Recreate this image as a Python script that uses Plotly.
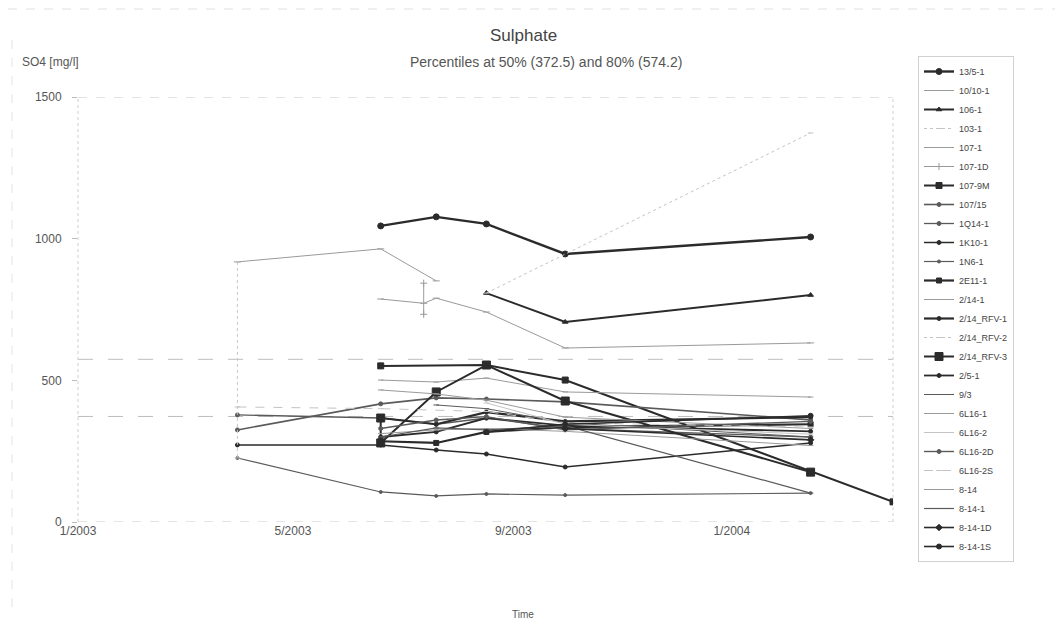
import plotly.graph_objects as go

# Sampling dates (some dates appear twice: two samples on the same day)
sample_dates = ["2003-03-31", "2003-03-31", "2003-06-19", "2003-06-19", "2003-07-13",
                "2003-07-13", "2003-07-20", "2003-08-17", "2003-09-30", "2004-02-14", "2004-03-31"]
N = None

series_names = ["13/5-1", "10/10-1", "106-1", "103-1", "107-1", "107-1D", "107-9M", "107/15",
                "1Q14-1", "1K10-1", "1N6-1", "2E11-1", "2/14-1", "2/14_RFV-1", "2/14_RFV-2",
                "2/14_RFV-3", "2/5-1", "9/3", "6L16-1", "6L16-2", "6L16-2D", "6L16-2S",
                "8-14", "8-14-1", "8-14-1D", "8-14-1S"]

v_13_5_1    = [N, N, 1045, N, N, N, 1077, 1052, 946, 1006, N]
v_10_10_1   = [918, N, 964, N, N, N, 851, N, N, N, N]
v_106_1     = [N, N, N, N, N, N, N, 808, 706, 801, N]
v_103_1     = [N, N, N, N, N, N, N, 808, N, 1373, N]
v_107_1     = [N, N, 787, N, 772, N, 790, 741, 614, 632, N]
v_107_1D    = [N, N, N, N, 843, 733, N, N, N, N, N]
v_107_9M    = [N, N, 551, N, N, N, N, 554, 501, N, 71]
v_107_15    = [325, N, 417, N, N, N, 438, 434, 424, 360, N]
v_1Q14_1    = [378, N, 367, N, N, N, 345, 367, 330, 300, N]
v_1K10_1    = [272, N, 272, N, N, N, 254, 240, 194, 279, N]
v_1N6_1     = [226, N, 106, N, N, N, 92, 99, 95, 102, N]
v_2E11_1    = [N, N, 285, N, N, N, 279, 318, 335, 345, N]
v_2_14_1    = [N, N, 501, N, N, N, 494, 508, 459, 441, N]
v_2_14_RFV1 = [N, N, 367, N, N, N, 345, 388, 355, 370, N]
v_2_14_RFV2 = [918, 226, N, N, N, N, N, N, N, N, N]
v_2_14_RFV3 = [N, N, 367, 279, N, N, 459, 554, 427, 176, N]
v_2_5_1     = [N, N, 300, N, N, N, 318, 367, 340, 320, N]
v_9_3       = [N, N, N, N, N, N, 413, 400, 350, 300, N]
v_6L16_1    = [N, N, 466, N, N, N, 452, 430, 370, 330, N]
v_6L16_2    = [N, N, N, N, N, N, N, 420, 345, 310, N]
v_6L16_2D   = [N, N, 330, N, N, N, 360, 372, 325, 355, N]
v_6L16_2S   = [406, N, 400, N, N, N, N, 390, 350, 335, N]
v_8_14      = [N, N, 312, N, N, N, 325, 330, 320, 270, N]
v_8_14_1    = [N, N, 300, N, N, N, 332, 325, 340, 102, N]
v_8_14_1D   = [N, N, N, N, N, N, N, N, 330, 290, N]
v_8_14_1S   = [N, N, N, N, N, N, N, 318, 345, 375, N]

series_values = [v_13_5_1, v_10_10_1, v_106_1, v_103_1, v_107_1, v_107_1D, v_107_9M, v_107_15,
                 v_1Q14_1, v_1K10_1, v_1N6_1, v_2E11_1, v_2_14_1, v_2_14_RFV1, v_2_14_RFV2,
                 v_2_14_RFV3, v_2_5_1, v_9_3, v_6L16_1, v_6L16_2, v_6L16_2D, v_6L16_2S,
                 v_8_14, v_8_14_1, v_8_14_1D, v_8_14_1S]

percentile_50 = 372.5
percentile_80 = 574.2
y_ticks = [0, 500, 1000, 1500]
x_tick_vals = ["2003-01-01", "2003-05-01", "2003-09-01", "2004-01-01"]
x_tick_text = ["1/2003", "5/2003", "9/2003", "1/2004"]

# styles: (line color, width, dash, marker symbol, marker size)
DK, MD, LT, VL = "#2b2b2b", "#5a5a5a", "#9a9a9a", "#c4c4c4"
styles = [
    (DK, 2.4, "solid", "circle", 6), (LT, 1.0, "solid", "line-ew", 5), (DK, 2.0, "solid", "triangle-up", 5),
    (VL, 1.0, "dot", "line-ew", 4), (LT, 1.0, "solid", "line-ew", 5), (LT, 1.0, "solid", "cross-thin", 5),
    (DK, 2.0, "solid", "square", 6), (MD, 1.6, "solid", "circle", 4), (MD, 1.3, "solid", "circle", 4),
    (DK, 1.5, "solid", "circle", 4), (MD, 1.2, "solid", "circle", 3), (DK, 2.2, "solid", "square", 5),
    (LT, 1.0, "solid", "line-ew", 4), (DK, 2.2, "solid", "circle", 4), (VL, 1.0, "dot", "line-ew", 4),
    (DK, 2.0, "solid", "square", 8), (DK, 1.8, "solid", "circle", 4), (MD, 1.0, "solid", "line-ew", 4),
    (LT, 1.0, "solid", "line-ew", 4), (VL, 1.0, "solid", "line-ew", 4), (MD, 1.4, "solid", "circle", 4),
    (VL, 1.0, "dash", "line-ew", 4), (LT, 1.0, "solid", "line-ew", 4), (MD, 1.2, "solid", "line-ew", 4),
    (DK, 1.6, "solid", "diamond", 5), (DK, 1.6, "solid", "circle", 5),
]

fig = go.Figure()
for name, vals, st in zip(series_names, series_values, styles):
    color, width, dash, sym, size = st
    fig.add_trace(go.Scatter(
        x=sample_dates, y=vals, name=name, mode="lines+markers", connectgaps=True,
        line=dict(color=color, width=width, dash=dash),
        marker=dict(symbol=sym, size=size, color=color, line=dict(color=color, width=1)),
    ))

OFF = 8  # default page body margin
L, T, R_PX, B_PX = 78, 97, 893, 522
W, H = 1063 - OFF, 623 - OFF
pw, ph = R_PX - L, B_PX - T

def px(xp):
    return (xp - L) / pw

def py(yp):
    return (B_PX - yp) / ph

shapes = []
for yv, dash, col in [(1500, "dash", "#c8c8c8"), (0, "dash", "#c8c8c8"),
                      (percentile_50, "longdash", "#bdbdbd"), (percentile_80, "longdash", "#bdbdbd")]:
    shapes.append(dict(type="line", xref="paper", yref="y", x0=0, x1=1, y0=yv, y1=yv,
                       line=dict(color=col, width=1, dash=dash), layer="below"))
for xv in [0, 1]:
    shapes.append(dict(type="line", xref="paper", yref="paper", x0=xv, x1=xv, y0=0, y1=1,
                       line=dict(color="#cfcfcf", width=1, dash="dot"), layer="below"))
# faint scan frame
shapes.append(dict(type="line", xref="paper", yref="paper", x0=px(8), x1=px(1063), y0=py(9), y1=py(9),
                   line=dict(color="#e0e0e0", width=1, dash="dash")))
shapes.append(dict(type="line", xref="paper", yref="paper", x0=px(12), x1=px(12), y0=py(40), y1=py(615),
                   line=dict(color="#e4e4e4", width=1, dash="dash")))

FONT = "Liberation Sans Narrow, Liberation Sans, Arial, sans-serif"
annotations = [
    dict(text="Sulphate", x=px(523), y=py(36), xref="paper", yref="paper", showarrow=False,
         font=dict(size=17, color="#444", family=FONT), xanchor="center", yanchor="middle"),
    dict(text="Percentiles at 50% (372.5) and 80% (574.2)", x=px(546), y=py(62), xref="paper", yref="paper",
         showarrow=False, font=dict(size=14, color="#555", family=FONT), xanchor="center", yanchor="middle"),
    dict(text="SO4 [mg/l]", x=px(20), y=py(62), xref="paper", yref="paper", showarrow=False,
         font=dict(size=12, color="#555", family=FONT), xanchor="left", yanchor="middle"),
    dict(text="Time", x=px(523), y=py(614), xref="paper", yref="paper", showarrow=False,
         font=dict(size=10, color="#555", family=FONT), xanchor="center", yanchor="middle"),
]

fig.update_layout(
    width=W, height=H, paper_bgcolor="white", plot_bgcolor="white",
    margin=dict(l=L - OFF, r=W - (R_PX - OFF), t=T - OFF, b=H - (B_PX - OFF), pad=0),
    font=dict(family=FONT, color="#555", size=11),
    showlegend=True,
    legend=dict(x=px(918), y=py(56), xanchor="left", yanchor="top", bordercolor="#d0d0d0", borderwidth=1,
                font=dict(size=9, color="#444", family=FONT), tracegroupgap=0, itemwidth=30,
                bgcolor="rgba(255,255,255,0)", maxheight=560),
    shapes=shapes, annotations=annotations,
)
fig.update_xaxes(type="date", range=["2003-01-01", "2004-03-31"], tickvals=x_tick_vals, ticktext=x_tick_text,
                 showgrid=False, zeroline=False, showline=False, ticks="", tickfont=dict(size=12, color="#555"))
fig.update_yaxes(range=[0, 1500], tickvals=y_ticks, ticktext=[str(v) for v in y_ticks], showgrid=False,
                 zeroline=False, showline=False, ticks="outside", ticklen=5, tickcolor="#bbb",
                 ticklabelstandoff=8, tickfont=dict(size=12, color="#555"))

fig.write_html("out.html")
